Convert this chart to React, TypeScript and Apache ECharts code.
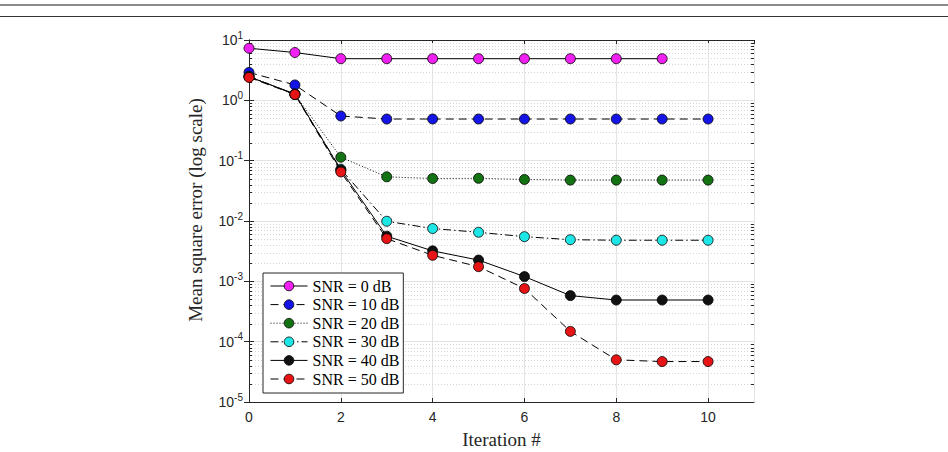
import React, { useEffect, useRef } from "react";
import * as echarts from "echarts";

// Iteration index for every curve
const iterations = [0, 1, 2, 3, 4, 5, 6, 7, 8, 9, 10];

// Mean square error per iteration, one array per SNR
const mseSnr0 = [7.3, 6.2, 4.9, 4.9, 4.9, 4.9, 4.9, 4.9, 4.9, 4.9];
const mseSnr10 = [2.9, 1.8, 0.55, 0.49, 0.49, 0.49, 0.49, 0.49, 0.49, 0.49, 0.49];
const mseSnr20 = [2.5, 1.25, 0.114, 0.054, 0.0506, 0.051, 0.0487, 0.0476, 0.0476, 0.0476, 0.0476];
const mseSnr30 = [2.5, 1.25, 0.072, 0.0099, 0.0075, 0.0065, 0.0055, 0.0049, 0.0048, 0.0048, 0.0048];
const mseSnr40 = [2.45, 1.28, 0.07, 0.0056, 0.0032, 0.00225, 0.0012, 0.00058, 0.00049, 0.00049, 0.00049];
const mseSnr50 = [2.4, 1.25, 0.065, 0.0051, 0.0027, 0.00175, 0.00076, 0.000148, 0.00005, 0.0000468, 0.0000468];

const seriesNames = ["SNR = 0 dB", "SNR = 10 dB", "SNR = 20 dB", "SNR = 30 dB", "SNR = 40 dB", "SNR = 50 dB"];
const seriesValues = [mseSnr0, mseSnr10, mseSnr20, mseSnr30, mseSnr40, mseSnr50];
const seriesColors = ["#f020f0", "#1414e6", "#137313", "#1ee6e6", "#111111", "#e61414"];
const seriesDash: (string | number[])[] = ["solid", [8, 5], [1, 2], [8, 3, 1.5, 3], "solid", [8, 5]];

// Log-axis minor positions (2..9 within each decade)
const decades = [1e-5, 1e-4, 1e-3, 1e-2, 1e-1, 1];
const minorMultipliers = [2, 3, 4, 5, 6, 7, 8, 9];

const AXIS_COLOR = "#262626";
const SERIF = "'Liberation Serif', 'DejaVu Serif', serif";
const SANS = "'Liberation Sans', Arial, sans-serif";

export default function App() {
  const ref = useRef<HTMLDivElement>(null);

  useEffect(() => {
    document.body.style.margin = "0";
    if (!ref.current) return;
    const chart = echarts.init(ref.current, undefined, { renderer: "svg" });

    const minorValues: number[][] = [];
    decades.forEach((d) => minorMultipliers.forEach((m) => minorValues.push([0, d * m])));

    const lineSeries = seriesNames.map((name, i) => ({
      name,
      type: "line",
      xAxisIndex: 0,
      yAxisIndex: 0,
      data: seriesValues[i].map((v, k) => [iterations[k], v]),
      symbol: "circle",
      symbolSize: 10,
      z: 3 + i,
      itemStyle: { color: seriesColors[i], borderColor: "#000", borderWidth: 0.8 },
      lineStyle: { color: "#000", width: 1, type: seriesDash[i] },
    }));

    const option: any = {
      animation: false,
      backgroundColor: "#fff",
      graphic: [
        { type: "line", shape: { x1: 0, y1: 5, x2: 948, y2: 5 }, style: { stroke: "#8a8a8a", lineWidth: 2 } },
        { type: "line", shape: { x1: 0, y1: 16.5, x2: 948, y2: 16.5 }, style: { stroke: "#333", lineWidth: 1.2 } },
      ],
      grid: { left: 249, right: 194, top: 40, bottom: 50, containLabel: false, outerBoundsMode: "none" },
      legend: {
        data: seriesNames,
        orient: "vertical",
        left: 263,
        top: 273,
        itemWidth: 37,
        itemHeight: 12,
        itemGap: 2.6,
        padding: [5, 4, 6, 7],
        backgroundColor: "#fff",
        borderColor: AXIS_COLOR,
        borderWidth: 1,
        borderRadius: 0,
        lineStyle: { width: 1 },
        itemStyle: { borderWidth: 0.8 },
        textStyle: { fontFamily: SERIF, fontSize: 16, color: "#000" },
      },
      xAxis: [
        {
          type: "value",
          min: 0,
          max: 11,
          interval: 2,
          name: "Iteration #",
          nameLocation: "middle",
          nameGap: 28,
          nameTextStyle: { fontFamily: SERIF, fontSize: 19, color: AXIS_COLOR },
          axisLine: { lineStyle: { color: AXIS_COLOR, width: 1 } },
          axisTick: { inside: true, length: 4, lineStyle: { color: AXIS_COLOR } },
          axisLabel: { showMaxLabel: false, fontFamily: SANS, fontSize: 14, color: AXIS_COLOR, margin: 8 },
          splitLine: { show: true, lineStyle: { color: "#e3e3e3", width: 1 } },
        },
        {
          type: "value",
          position: "top",
          min: 0,
          max: 11,
          interval: 2,
          axisLine: { show: true, onZero: false, lineStyle: { color: AXIS_COLOR, width: 1 } },
          axisTick: { show: true, inside: true, length: 4, lineStyle: { color: AXIS_COLOR } },
          axisLabel: { show: false },
          splitLine: { show: false },
        },
      ],
      yAxis: [
        {
          type: "log",
          logBase: 10,
          min: 1e-5,
          max: 10,
          name: "Mean square error (log scale)",
          nameLocation: "middle",
          nameGap: 44,
          nameTextStyle: { fontFamily: SERIF, fontSize: 19, color: AXIS_COLOR, padding: [0, 0, 0, 22] },
          axisLine: { show: true, lineStyle: { color: AXIS_COLOR, width: 1 } },
          axisTick: { show: true, inside: true, length: 5, lineStyle: { color: AXIS_COLOR } },
          axisLabel: {
            margin: 6,
            color: AXIS_COLOR,
            formatter: (v: number) => `{b|10}{s|${Math.round(Math.log10(v))}}`,
            rich: {
              b: { fontFamily: SANS, fontSize: 14, color: AXIS_COLOR },
              s: { fontFamily: SANS, fontSize: 10, color: AXIS_COLOR, padding: [0, 0, 10, 0] },
            },
          },
          splitLine: { show: true, lineStyle: { color: "#e3e3e3", width: 1 } },
        },
        {
          type: "log",
          logBase: 10,
          min: 1e-5,
          max: 10,
          position: "right",
          axisLine: { show: true, lineStyle: { color: AXIS_COLOR, width: 1 } },
          axisTick: { show: true, inside: true, length: 5, lineStyle: { color: AXIS_COLOR } },
          axisLabel: { show: false },
          splitLine: { show: false },
        },
      ],
      series: [
        {
          type: "custom",
          name: "minor",
          silent: true,
          xAxisIndex: 0,
          yAxisIndex: 0,
          z: 1,
          encode: { x: 0, y: 1 },
          data: minorValues,
          renderItem: (params: any, api: any) => {
            const cs = params.coordSys;
            const p = api.coord([0, api.value(1)]);
            const y = Math.round(p[1]) + 0.5;
            const x0 = cs.x;
            const x1 = cs.x + cs.width;
            return {
              type: "group",
              children: [
                { type: "line", shape: { x1: x0, y1: y, x2: x1, y2: y }, style: { stroke: "#d6d6d6", lineWidth: 1, lineDash: [1, 2] } },
                { type: "line", shape: { x1: x0, y1: y, x2: x0 + 3, y2: y }, style: { stroke: AXIS_COLOR, lineWidth: 1 } },
                { type: "line", shape: { x1: x1 - 3, y1: y, x2: x1, y2: y }, style: { stroke: AXIS_COLOR, lineWidth: 1 } },
              ],
            };
          },
        },
        ...lineSeries,
      ],
    };

    chart.setOption(option);
    return () => chart.dispose();
  }, []);

  return <div ref={ref} style={{ width: 948, height: 452 }} />;
}
